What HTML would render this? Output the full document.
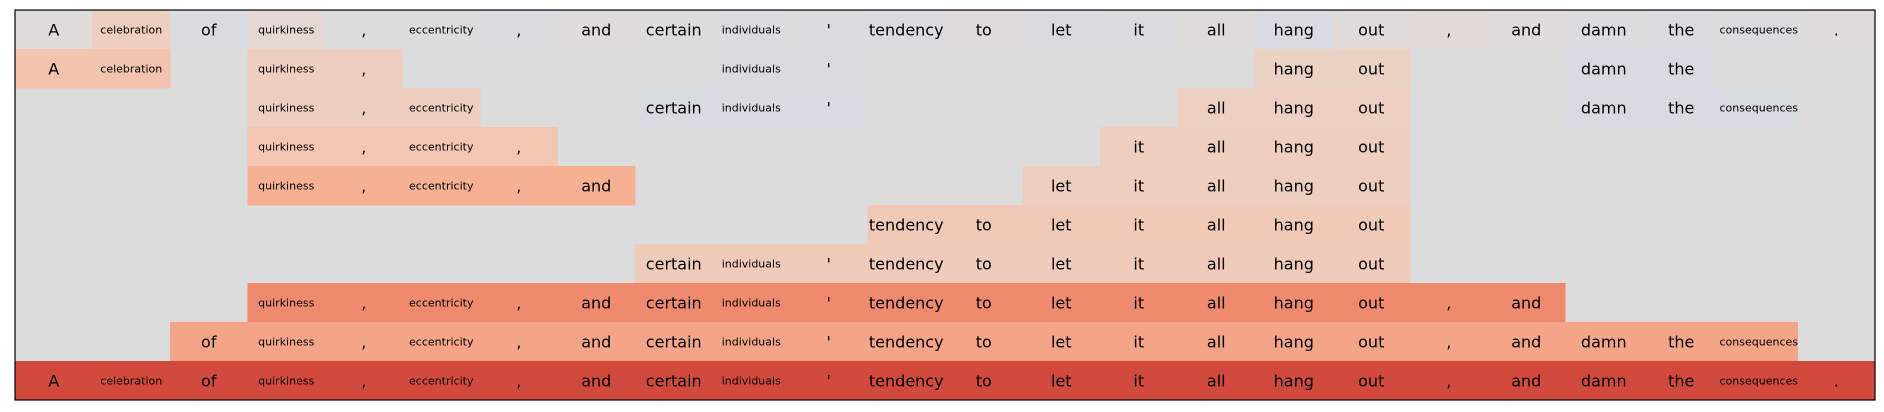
<!DOCTYPE html>
<html><head><meta charset="utf-8"><style>
html,body{margin:0;padding:0;background:#fff;width:1884px;height:412px;overflow:hidden}
svg{display:block}
text{font-family:"DejaVu Sans","Liberation Sans",sans-serif;fill:#000}
</style></head><body>
<svg id="chart" width="1884" height="412"></svg>
<script>
const tokens=["A","celebration","of","quirkiness",",","eccentricity",",","and","certain","individuals","'","tendency","to","let","it","all","hang","out",",","and","damn","the","consequences","."];
const row0=[0.02,0.2,-0.12,0.06,0,0,-0.1,0.02,0,-0.12,-0.06,-0.12,0.03,-0.1,-0.06,0.02,-0.14,0.03,0.04,0.03,-0.04,-0.1,-0.06,0.03];
const row1=[0.32,0.32,null,0.2,0.2,null,null,null,null,-0.12,-0.12,null,null,null,null,null,0.16,0.16,null,null,-0.14,-0.14,null,null];
const row2=[null,null,null,0.2,0.2,0.2,null,null,-0.15,-0.15,-0.15,null,null,null,null,0.18,0.18,0.18,null,null,-0.15,-0.15,-0.15,null];
const row3=[null,null,null,0.3,0.3,0.3,0.3,null,null,null,null,null,null,null,0.2,0.2,0.2,0.2,null,null,null,null,null,null];
const row4=[null,null,null,0.5,0.5,0.5,0.5,0.5,null,null,null,null,null,0.2,0.2,0.2,0.2,0.2,null,null,null,null,null,null];
const row5=[null,null,null,null,null,null,null,null,null,null,null,0.26,0.26,0.26,0.26,0.26,0.26,0.26,null,null,null,null,null,null];
const row6=[null,null,null,null,null,null,null,null,0.24,0.24,0.24,0.24,0.24,0.24,0.24,0.24,0.24,0.24,null,null,null,null,null,null];
const row7=[null,null,null,0.7,0.7,0.7,0.7,0.7,0.7,0.7,0.7,0.7,0.7,0.7,0.7,0.7,0.7,0.7,0.7,0.7,null,null,null,null];
const row8=[null,null,0.56,0.56,0.56,0.56,0.56,0.56,0.56,0.56,0.56,0.56,0.56,0.56,0.56,0.56,0.56,0.56,0.56,0.56,0.56,0.56,0.56,null];
const row9=[1,1,1,1,1,1,1,1,1,1,1,1,1,1,1,1,1,1,1,1,1,1,1,1];
const rows=[row0,row1,row2,row3,row4,row5,row6,row7,row8,row9];
const X0=15,X1=1875,Y0=10,Y1=400;
const cw=(X1-X0)/tokens.length, rh=(Y1-Y0)/rows.length;
const xOf=i=>X0+i*cw, yOf=r=>Y0+r*rh;
const stops=[[-0.2,[214,218,228]],[0,[221,220,220]],[0.15,[236,210,198]],[0.3,[242,198,177]],[0.5,[246,177,148]],[0.7,[239,138,110]],[1,[210,74,62]]];
function col(v){
 if(v<=stops[0][0])return stops[0][1];
 for(let k=1;k<stops.length;k++){if(v<=stops[k][0]){const [a,ca]=stops[k-1],[b,cb]=stops[k];const t=(v-a)/(b-a);return ca.map((c,j)=>Math.round(c+(cb[j]-c)*t));}}
 return stops[stops.length-1][1];
}
const svg=document.getElementById('chart');const NS='http://www.w3.org/2000/svg';
const bg=document.createElementNS(NS,'rect');
bg.setAttribute('x',X0);bg.setAttribute('y',Y0);bg.setAttribute('width',X1-X0);bg.setAttribute('height',Y1-Y0);bg.setAttribute('fill','rgb(221,220,220)');


svg.appendChild(bg);
rows.forEach((row,r)=>{
 row.forEach((v,i)=>{
  if(v===null)return;
  const c=col(v);
  const rc=document.createElementNS(NS,'rect');
  rc.setAttribute('x',xOf(i));rc.setAttribute('y',yOf(r));rc.setAttribute('width',cw+0.5);rc.setAttribute('height',rh+0.5);
  rc.setAttribute('fill','rgb('+c.join(',')+')');
  
  
  svg.appendChild(rc);
  const t=document.createElementNS(NS,'text');
  const small=tokens[i].length>=10;
  t.setAttribute('x',xOf(i)+cw/2);t.setAttribute('y',yOf(r)+rh/2+(small?4:6));
  t.setAttribute('text-anchor','middle');t.setAttribute('font-size',small?11:16);
  t.textContent=tokens[i];
  
  
  svg.appendChild(t);
 });
});
const fr=document.createElementNS(NS,'rect');
fr.setAttribute('x',X0);fr.setAttribute('y',Y0);fr.setAttribute('width',X1-X0);fr.setAttribute('height',Y1-Y0);
fr.setAttribute('fill','none');fr.setAttribute('stroke','#000');fr.setAttribute('stroke-width','1.2');


svg.appendChild(fr);
</script>
</body></html>
